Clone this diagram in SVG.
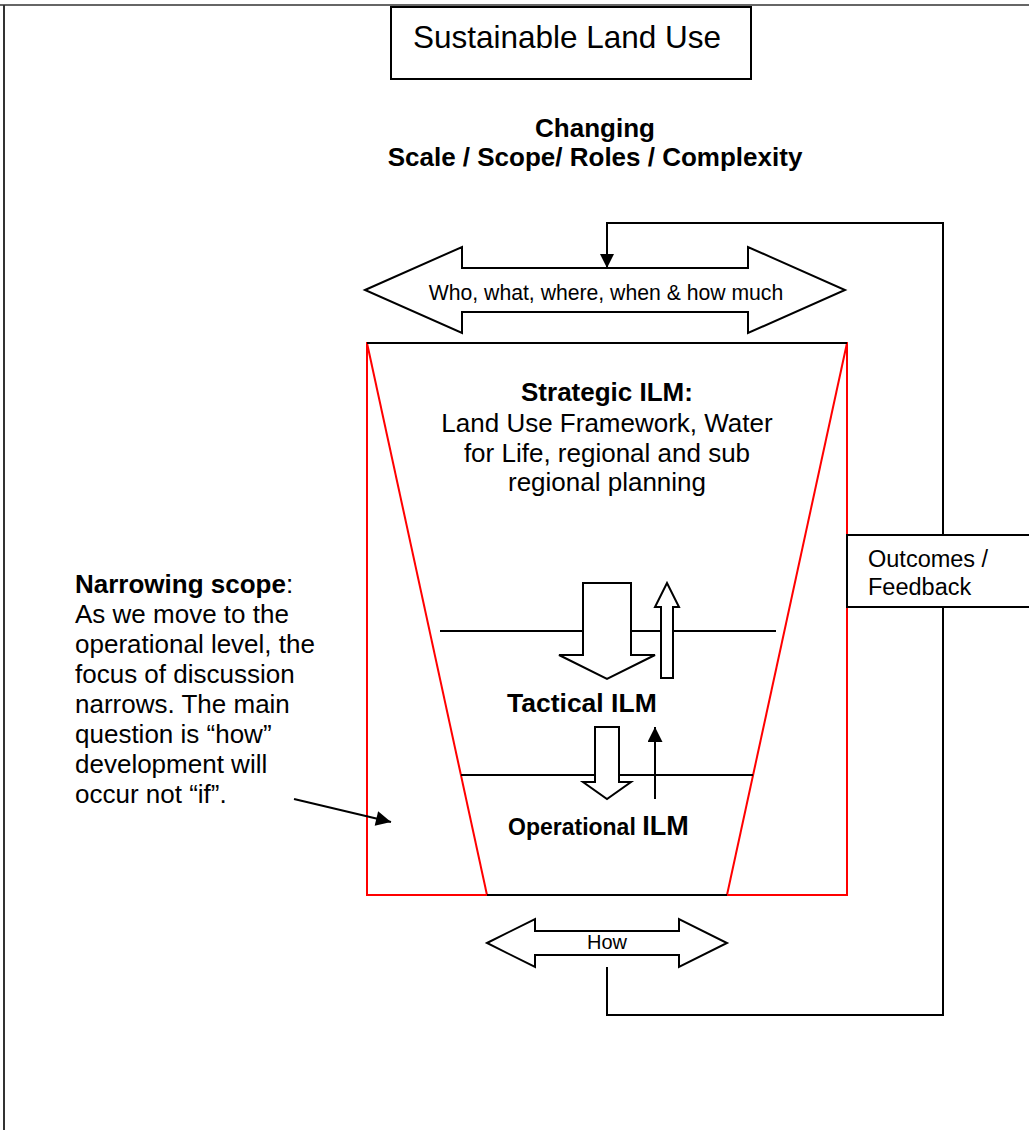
<svg xmlns="http://www.w3.org/2000/svg" width="1029" height="1130" viewBox="0 0 1029 1130">
  <style>
    .t { font-family: "Liberation Sans", Arial, sans-serif; fill: #000; }
    .b { font-weight: bold; }
    .box { fill: #fff; stroke: #000; stroke-width: 2; }
    .blk { fill: #fff; stroke: #000; stroke-width: 2; stroke-linejoin: miter; }
    .ln { fill: none; stroke: #000; stroke-width: 2; }
    .red { fill: none; stroke: #f00; stroke-width: 2; }
  </style>
  <defs>
    <marker id="ah" viewBox="0 0 10 10" refX="10" refY="5" markerWidth="14" markerHeight="14" markerUnits="userSpaceOnUse" orient="auto">
      <path d="M0,0 L10,5 L0,10 z" fill="#000"/>
    </marker>
    <marker id="ah2" viewBox="0 0 10 10" refX="10" refY="5" markerWidth="17" markerHeight="15" markerUnits="userSpaceOnUse" orient="auto">
      <path d="M0,0 L10,5 L0,10 z" fill="#000"/>
    </marker>
  </defs>
  <rect width="1029" height="1130" fill="#fff"/>

  <g id="page-border">
    <line x1="0" y1="5" x2="1029" y2="5" stroke="#666" stroke-width="2"/>
    <line x1="4" y1="5" x2="4" y2="1130" stroke="#333" stroke-width="2"/>
  </g>

  <g id="title">
    <rect class="box" x="391" y="7" width="360" height="72"/>
    <text class="t" x="567" y="48" font-size="31.5" text-anchor="middle">Sustainable Land Use</text>
  </g>

  <g id="heading">
    <text class="t b" x="595" y="137" font-size="26" text-anchor="middle">Changing</text>
    <text class="t b" x="595" y="166" font-size="26" text-anchor="middle">Scale / Scope/ Roles / Complexity</text>
  </g>

  <g id="frame">
    <rect class="red" x="367" y="343" width="480" height="552"/>
    <line class="red" x1="367" y1="343" x2="487" y2="895"/>
    <line class="red" x1="847" y1="343" x2="727" y2="895"/>
    <line class="ln" x1="367" y1="343" x2="847" y2="343"/>
    <line class="ln" x1="487" y1="895" x2="727" y2="895"/>
    <line class="ln" x1="440" y1="631" x2="776" y2="631"/>
    <line class="ln" x1="461" y1="775" x2="753" y2="775"/>
  </g>

  <g id="who-arrow">
    <path class="blk" d="M365,290 L462,247 L462,268 L748,268 L748,247 L845,290 L748,333 L748,312 L462,312 L462,333 Z"/>
    <text class="t" x="606" y="300" font-size="21.2" text-anchor="middle">Who, what, where, when &amp; how much</text>
  </g>

  <g id="strategic">
    <text class="t b" x="607" y="401" font-size="26" text-anchor="middle">Strategic ILM:</text>
    <text class="t" x="607" y="432" font-size="26" text-anchor="middle">Land Use Framework, Water</text>
    <text class="t" x="607" y="462" font-size="26" text-anchor="middle">for Life, regional and sub</text>
    <text class="t" x="607" y="491" font-size="26" text-anchor="middle">regional planning</text>
  </g>

  <g id="level-arrows">
    <path class="blk" d="M583,583 H631 V655 H655 L607,679 L559,655 H583 Z"/>
    <path class="blk" d="M661,678 V607 H655 L667,583 L679,607 H673 V678 Z"/>
    <path class="blk" d="M595,727 H619 V782 H631 L607,799 L583,782 H595 Z"/>
    <line class="ln" x1="655" y1="799" x2="655" y2="727" marker-end="url(#ah2)"/>
  </g>

  <g id="tactical">
    <text class="t b" x="507" y="712" font-size="26.5">Tactical ILM</text>
  </g>

  <g id="operational">
    <text class="t b" x="508" y="835"><tspan font-size="23">Operational </tspan><tspan font-size="27">ILM</tspan></text>
  </g>

  <g id="how-arrow">
    <path class="blk" d="M487,943 L535,919 L535,931 L679,931 L679,919 L727,943 L679,967 L679,955 L535,955 L535,967 Z"/>
    <text class="t" x="607" y="949" font-size="20" text-anchor="middle">How</text>
  </g>

  <g id="narrowing">
    <text class="t" font-size="26">
      <tspan x="75" y="593"><tspan font-weight="bold">Narrowing scope</tspan>:</tspan>
      <tspan x="75" y="623">As we move to the</tspan>
      <tspan x="75" y="653">operational level, the</tspan>
      <tspan x="75" y="683">focus of discussion</tspan>
      <tspan x="75" y="713">narrows. The main</tspan>
      <tspan x="75" y="743">question is “how”</tspan>
      <tspan x="75" y="773">development will</tspan>
      <tspan x="75" y="803">occur not “if”.</tspan>
    </text>
  </g>

  <g id="connectors">
    <path class="ln" d="M607,967 V1015 H943 V223 H607 V268" marker-end="url(#ah)"/>
    <line class="ln" x1="294" y1="799" x2="391" y2="822" marker-end="url(#ah2)"/>
  </g>

  <g id="outcomes">
    <rect class="box" x="847" y="535" width="190" height="72"/>
    <text class="t" x="868" y="567" font-size="23.5">Outcomes /</text>
    <text class="t" x="868" y="595" font-size="23.5">Feedback</text>
  </g>
</svg>
